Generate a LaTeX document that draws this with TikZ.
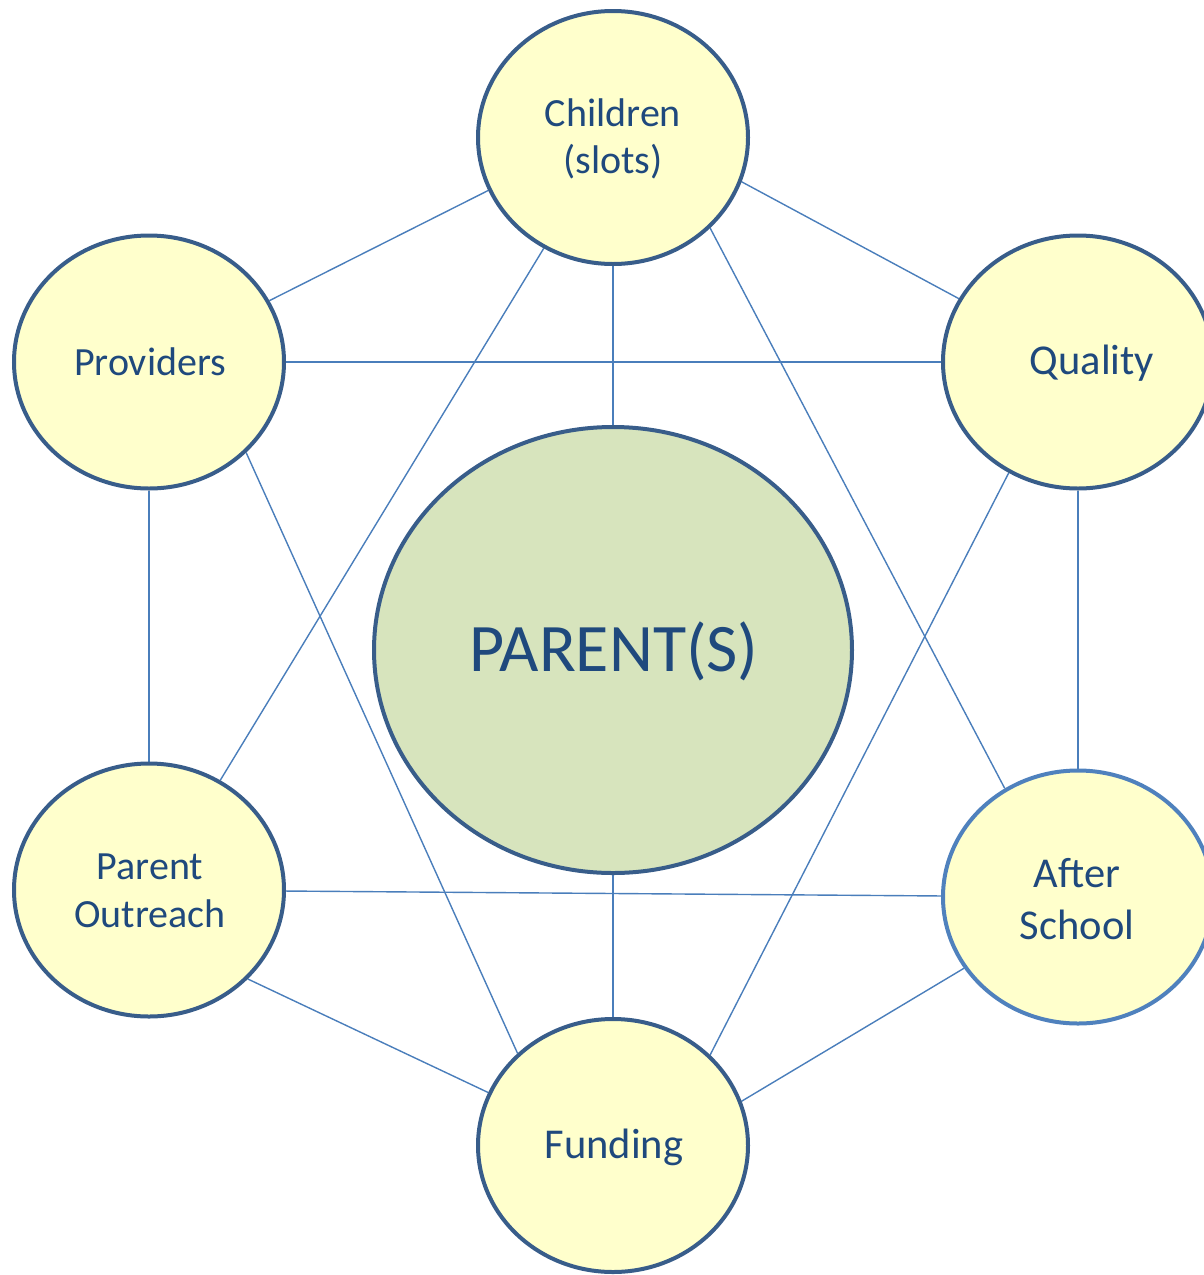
\documentclass[tikz,border=0pt]{standalone}
\usepackage{fontspec}
\setmainfont{Carlito}
\usetikzlibrary{shapes.geometric,backgrounds}
\definecolor{ringblue}{HTML}{385D8A}
\definecolor{ringlight}{HTML}{4F81BD}
\definecolor{linkblue}{HTML}{4A7EBB}
\definecolor{txtblue}{HTML}{1F497D}
\definecolor{nodefill}{HTML}{FFFFCC}
\definecolor{parentfill}{HTML}{D7E4BD}
\begin{document}
\begin{tikzpicture}[x=1pt,y=-1pt,
  topic/.style={ellipse, draw=ringblue, line width=4pt, fill=nodefill,
    minimum width=270pt, minimum height=253pt, inner sep=0pt},
  hub/.style={ellipse, draw=ringblue, line width=4pt, fill=parentfill,
    minimum width=478pt, minimum height=446pt, inner sep=0pt},
  lbl/.style={text=txtblue, align=center, inner sep=0pt,
    font=\fontsize{40}{47.5}\selectfont},
  lblbig/.style={text=txtblue, align=center, inner sep=0pt,
    font=\fontsize{42.5}{52}\selectfont},
  hublbl/.style={text=txtblue, inner sep=0pt, font=\fontsize{68}{80}\selectfont},
  link/.style={draw=linkblue, line width=1.4pt}]
\useasboundingbox (0,0) rectangle (1204,1275);
\clip (0,0) rectangle (1204,1275);
\node[topic] (children) at (613,137.5) {};
\node[topic] (providers) at (149,362) {};
\node[topic] (quality) at (1078,362) {};
\node[topic] (outreach) at (149,890) {};
\node[topic, draw=ringlight] (after) at (1078,897) {};
\node[topic] (funding) at (613,1145.5) {};
\node[hub] (parent) at (613,650) {};
\node[lbl] (childrentext) at (613,139) {Children\\(slots)};
\node[lbl] (providerstext) at (150,362) {Providers};
\node[lblbig] (qualitytext) at (1092,363) {Quality};
\node[lbl] (outreachtext) at (150,891) {Parent\\Outreach};
\node[lblbig] (aftertext) at (1077,899) {After\\School};
\node[lblbig] (fundingtext) at (614,1147) {Funding};
\node[hublbl] (parenttext) at (614,651) {PARENT(S)};
\begin{scope}[on background layer]
\draw[link] (children.-157.6) -- (providers.27.9);
\draw[link] (children.-19.5) -- (quality.152.1);
\draw[link] (children) -- (parent);
\draw[link] (children.-122.4) -- (outreach.57);
\draw[link] (children.-43.9) -- (after.124.7);
\draw[link] (providers) -- (quality);
\draw[link] (providers) -- (outreach);
\draw[link] (providers.-43.5) -- (funding.136);
\draw[link] (quality) -- (after);
\draw[link] (quality.-122.7) -- (funding.43.3);
\draw[link] (outreach) -- (after);
\draw[link] (outreach.-42.9) -- (funding.157.8);
\draw[link] (after.-148.7) -- (funding.19.5);
\draw[link] (parent) -- (funding);
\end{scope}
\end{tikzpicture}
\end{document}
